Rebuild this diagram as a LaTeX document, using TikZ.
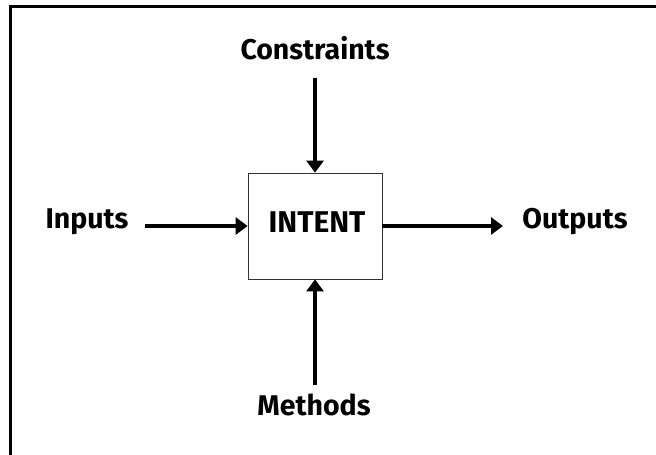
\documentclass[tikz,border=0pt]{standalone}
\usepackage{fontspec}
\setmainfont{Fira Sans}
\usetikzlibrary{arrows.meta}
\begin{document}
\begin{tikzpicture}[x=1pt,y=-1pt,
  lbl/.style={font=\bfseries\fontsize{28.5}{32}\selectfont, inner sep=0pt},
  flow/.style={line width=3.5pt, -{Triangle[width=17pt,length=12pt]}},
  frameline/.style={line width=3pt}]
  \useasboundingbox (0,0) rectangle (656,455);
  % partial frame: top and left edges
  \draw[frameline] (10,455) -- (10,6) -- (656,6);
  % central process box
  \node[draw=black!80, line width=0.8pt, minimum width=134pt, minimum height=106pt, inner sep=0pt]
    (intent) at (315,226) {};
  \node[lbl, font=\bfseries\fontsize{30}{34}\selectfont] (intenttxt) at (317,222) {INTENT};
  \node[lbl] (constraints) at (315,48) {Constraints};
  \node[lbl] (inputs) at (87,222) {Inputs};
  \node[lbl] (outputs) at (575,222) {Outputs};
  \node[lbl] (methods) at (314,405) {Methods};
  \coordinate (ctail) at (315,78);
  \coordinate (mtail) at (315,385);
  \coordinate (itail) at (145,226);
  \coordinate (ohead) at (503,226);
  \draw[flow] (ctail) -- (intent.north);
  \draw[flow] (mtail) -- (intent.south);
  \draw[flow] (itail) -- (intent.west);
  \draw[flow] (intent.east) -- (ohead);
\end{tikzpicture}
\end{document}
